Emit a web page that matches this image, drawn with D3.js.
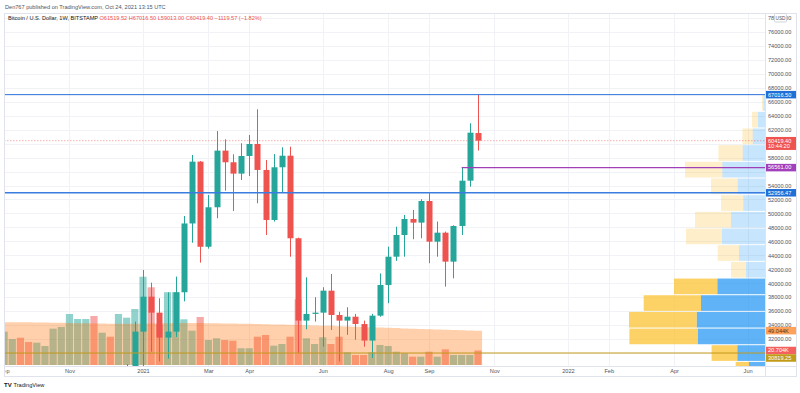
<!DOCTYPE html>
<html>
<head>
<meta charset="utf-8">
<script src="https://cdn.jsdelivr.net/npm/d3@7"></script>
<style>
  body { margin: 0; background: #fff; }
  svg { display: block; font-family: "Liberation Sans", Arial, sans-serif; }
</style>
</head>
<body>
<script>
// weekly bars, BITSTAMP BTC/USD
var weeks = ['2020-09-07','2020-09-14','2020-09-21','2020-09-28','2020-10-05','2020-10-12','2020-10-19','2020-10-26',
  '2020-11-02','2020-11-09','2020-11-16','2020-11-23','2020-11-30','2020-12-07','2020-12-14','2020-12-21','2020-12-28',
  '2021-01-04','2021-01-11','2021-01-18','2021-01-25','2021-02-01','2021-02-08','2021-02-15','2021-02-22',
  '2021-03-01','2021-03-08','2021-03-15','2021-03-22','2021-03-29','2021-04-05','2021-04-12','2021-04-19','2021-04-26',
  '2021-05-03','2021-05-10','2021-05-17','2021-05-24','2021-05-31','2021-06-07','2021-06-14','2021-06-21','2021-06-28',
  '2021-07-05','2021-07-12','2021-07-19','2021-07-26','2021-08-02','2021-08-09','2021-08-16','2021-08-23','2021-08-30',
  '2021-09-06','2021-09-13','2021-09-20','2021-09-27','2021-10-04','2021-10-11','2021-10-18'];

var open = [10280, 10330, 10930, 10730, 10670, 11380, 11500, 13030, 13780, 15480, 15960, 18650, 18170, 19370, 19270, 23850, 26250,
  33060, 38070, 35780, 32200, 33060, 38700, 48560, 57420, 45220, 50880, 59000, 57330, 55700, 58230, 59950, 56230, 49060, 56610,
  58270, 46440, 34640, 35600, 35780, 38930, 35450, 34640, 35200, 34150, 31780, 35350, 39750, 43800, 46910, 49200, 48680, 51780,
  45950, 47240, 43090, 48200, 54690, 61519.52];
var high = [10780, 11180, 10990, 10950, 11500, 11720, 13350, 14100, 15960, 16480, 18790, 19480, 19900, 19420, 24300, 28400, 34500,
  41900, 40080, 37840, 38700, 40950, 49630, 58370, 57500, 52640, 61800, 60620, 58470, 60050, 61240, 64920, 57650, 58500, 59470,
  59560, 46530, 40850, 38000, 39420, 41320, 35900, 36550, 35600, 34640, 35600, 41400, 45230, 48100, 49780, 50500, 52030, 52880,
  48830, 47400, 48300, 56610, 62920, 67016.5];
var low = [9880, 10200, 10150, 10380, 10530, 11220, 11420, 12950, 13220, 14800, 15780, 16200, 18100, 17600, 19000, 21900, 26000,
  27700, 30190, 28800, 29200, 32300, 37400, 45800, 42950, 44950, 49300, 53260, 50350, 54790, 55360, 51450, 46910, 48830, 52970,
  43800, 30000, 33400, 34500, 30900, 33300, 28800, 32600, 31900, 30900, 29300, 35200, 37130, 43200, 43800, 46300, 46440, 42860,
  43800, 39510, 40700, 46910, 53830, 59013];
var close = [10330, 10930, 10730, 10670, 11380, 11500, 13030, 13780, 15480, 15960, 18650, 18170, 19370, 19270, 23850, 26250, 33060,
  38070, 35780, 32200, 33060, 38700, 48560, 57420, 45220, 50880, 59000, 57330, 55700, 58230, 59950, 56230, 49060, 56610, 58270,
  46440, 34640, 35600, 35780, 38930, 35450, 34640, 35200, 34150, 31780, 35350, 39750, 43800, 46910, 49200, 48680, 51780, 45950,
  47240, 43090, 48200, 54690, 61570, 60419.40];

// volume in thousands of BTC, and its moving average
var volume = [47.6, 37.1, 39.0, 32.9, 31.9, 27.1, 51.9, 54.3, 72.9, 65.7, 65.7, 70.0, 46.1, 40.4, 72.9, 67.6, 80.0,
  126.1, 111.0, 58.0, 104.0, 104.0, 65.3, 49.0, 68.6, 35.7, 38.1, 35.7, 34.7, 23.9, 23.9, 40.4, 42.9, 27.6, 30.0,
  40.4, 93.9, 38.1, 30.0, 39.6, 30.0, 40.4, 18.1, 14.3, 14.3, 18.1, 28.6, 27.1, 19.0, 16.7, 11.9, 11.9, 19.0,
  11.9, 22.4, 14.3, 14.3, 14.3, 20.704];
var volumeMA = [61.0, 61.0, 61.0, 61.0, 60.8, 60.6, 60.4, 60.2, 60.0, 59.8, 59.6, 59.4, 59.2, 59.0, 59.0, 59.0, 59.0,
  59.2, 59.4, 59.6, 59.8, 60.0, 60.0, 60.0, 60.0, 59.8, 59.6, 59.4, 59.2, 59.0, 58.8, 58.6, 58.3, 58.0, 57.7,
  57.4, 57.1, 56.8, 56.5, 56.2, 55.9, 55.5, 55.1, 54.7, 54.3, 53.9, 53.5, 53.1, 52.7, 52.3, 51.9, 51.5, 51.1,
  50.7, 50.3, 49.9, 49.6, 49.3, 49.044];

// volume profile (visible range), rows from top
var profileEdges = [67017, 64628, 62239, 59850, 57462, 55073, 52684, 50295, 47906, 45518, 43129, 40740,
  38351, 35962, 33573, 31185, 28796, 26407];
var profileUp   = [1.5, 7, 12.3, 22.3, 42.7, 27.3, 21.7, 34, 43, 26, 19, 47.7, 64, 68.3, 67.3, 27.7, 16];
var profileDown = [1.5, 6, 10.3, 24.3, 37.3, 26.7, 22.3, 36, 36, 21.3, 15, 43.3, 57.3, 67.7, 68.3, 25.7, 13.3];
var valueArea   = [0, 0, 0, 0, 0, 0, 0, 0, 0, 0, 0, 1, 1, 1, 1, 1, 1];

var priceTicks = [30000, 32000, 34000, 36000, 38000, 40000, 42000, 44000, 46000, 48000, 50000, 52000,
  54000, 56000, 58000, 60000, 62000, 64000, 66000, 68000, 70000, 72000, 74000, 76000, 78000];
var timeTicks = ['2020-09-07','2020-11-02','2021-01-04','2021-03-01','2021-04-05','2021-06-07','2021-08-02',
  '2021-09-06','2021-11-01','2022-01-03','2022-02-07','2022-04-04','2022-06-06'];
var timeLabels = ['Sep','Nov','2021','Mar','Apr','Jun','Aug','Sep','Nov','2022','Feb','Apr','Jun'];

var width = 800, height = 393;
var pane = {left: 4, right: 765, top: 13, bottom: 366},
  frameRight = 796, frameBottom = 376;

var red = '#ef5350', green = '#26a69a';
var fontSize = 5.6;

var bars = weeks.map(function(w, i) {
  return {date: new Date(w), o: open[i], h: high[i], l: low[i], c: close[i], v: volume[i], ma: volumeMA[i]};
});

var x = d3.scaleUtc()
  .domain([new Date('2021-01-04'), new Date('2021-10-18')])
  .range([143, 478]);
var y = d3.scaleLinear().domain([30000, 78000]).range([353, 18]);
var yVol = d3.scaleLinear().domain([0, 100]).range([365, 295]);
var wProf = d3.scaleLinear().domain([0, 100]).range([0, 100]);

var barStep = x(new Date('2021-01-11')) - x(new Date('2021-01-04'));

var svg = d3.select('body').append('svg')
  .attr('width', width)
  .attr('height', height);

var defs = svg.append('defs');
defs.append('clipPath').attr('id', 'pane')
  .append('rect')
    .attr('x', pane.left).attr('y', pane.top)
    .attr('width', pane.right - pane.left).attr('height', pane.bottom - pane.top);
defs.append('clipPath').attr('id', 'frame')
  .append('rect')
    .attr('x', pane.left + 1.5).attr('y', 0)
    .attr('width', frameRight - pane.left - 1.5).attr('height', height);

// header
svg.append('text')
  .attr('x', 5).attr('y', 8.6)
  .style('font-size', fontSize + 'px')
  .style('fill', '#50535e')
  .text('Den767 published on TradingView.com, Oct 24, 2021 13:15 UTC');

// grid
var grid = svg.append('g').attr('class', 'grid').attr('clip-path', 'url(#pane)');
grid.selectAll('line.h')
  .data(priceTicks)
  .enter().append('line')
    .attr('x1', pane.left).attr('x2', pane.right)
    .attr('y1', function(d) { return Math.round(y(d)) + 0.5; })
    .attr('y2', function(d) { return Math.round(y(d)) + 0.5; })
    .style('stroke', '#f0f2f6');
grid.selectAll('line.v')
  .data(timeTicks)
  .enter().append('line')
    .attr('x1', function(d) { return Math.round(x(new Date(d))) + 0.5; })
    .attr('x2', function(d) { return Math.round(x(new Date(d))) + 0.5; })
    .attr('y1', pane.top).attr('y2', pane.bottom)
    .style('stroke', '#f0f2f6');

var plot = svg.append('g').attr('clip-path', 'url(#pane)');

// volume bars
plot.append('g').selectAll('rect')
  .data(bars)
  .enter().append('rect')
    .attr('x', function(d) { return x(d.date) - barStep / 2 + 0.5; })
    .attr('width', barStep - 1)
    .attr('y', function(d) { return yVol(d.v); })
    .attr('height', function(d) { return yVol(0) - yVol(d.v); })
    .style('fill', function(d) { return d.c >= d.o ? 'rgba(38,166,154,0.5)' : 'rgba(239,83,80,0.5)'; });

// volume MA area
var maPts = bars.map(function(d) { return [x(d.date), d.ma]; });
maPts.unshift([maPts[0][0] - barStep / 2, maPts[0][1]]);
maPts.push([maPts[maPts.length - 1][0] + barStep / 2, maPts[maPts.length - 1][1]]);
plot.append('path')
  .datum(maPts)
  .attr('d', d3.area()
    .curve(d3.curveStep)
    .x(function(d) { return d[0]; })
    .y0(yVol(0))
    .y1(function(d) { return yVol(d[1]); }))
  .style('fill', 'rgba(255,111,0,0.33)');

// candles
var candle = plot.append('g').selectAll('g')
  .data(bars)
  .enter().append('g')
    .style('fill', function(d) { return d.c >= d.o ? green : red; })
    .style('stroke', function(d) { return d.c >= d.o ? green : red; });
candle.append('line')
  .attr('x1', function(d) { return Math.round(x(d.date)) + 0.5; })
  .attr('x2', function(d) { return Math.round(x(d.date)) + 0.5; })
  .attr('y1', function(d) { return y(d.h); })
  .attr('y2', function(d) { return y(d.l); })
  .style('stroke-width', 1);
candle.append('rect')
  .attr('x', function(d) { return Math.round(x(d.date)) - 2.5; })
  .attr('width', 6)
  .attr('y', function(d) { return y(Math.max(d.o, d.c)); })
  .attr('height', function(d) { return Math.max(1, Math.abs(y(d.o) - y(d.c))); })
  .style('stroke', 'none');

// volume profile
var prof = plot.append('g');
profileUp.forEach(function(u, i) {
  var top = y(profileEdges[i]) + 0.5,
    h = y(profileEdges[i + 1]) - y(profileEdges[i]) - 1,
    va = valueArea[i];
  prof.append('rect')
    .attr('x', pane.right - wProf(u))
    .attr('y', top).attr('width', wProf(u)).attr('height', h)
    .style('fill', va ? 'rgba(33,150,243,0.72)' : 'rgba(33,150,243,0.25)');
  prof.append('rect')
    .attr('x', pane.right - wProf(u) - wProf(profileDown[i]))
    .attr('y', top).attr('width', wProf(profileDown[i])).attr('height', h)
    .style('fill', va ? 'rgba(251,192,45,0.72)' : 'rgba(251,192,45,0.25)');
});

// horizontal levels
var levels = [
  {price: 67016.5, from: null, color: '#2a6fdb', w: 1},
  {price: 52956.47, from: null, color: '#3a7de0', w: 1.6},
  {price: 56561, from: '2021-10-04', color: '#a040b8', w: 1.2},
  {price: 30000, from: null, color: '#c49a1a', w: 1}
];
plot.append('g').selectAll('line')
  .data(levels)
  .enter().append('line')
    .attr('x1', function(d) { return d.from ? x(new Date(d.from)) : pane.left; })
    .attr('x2', pane.right)
    .attr('y1', function(d) { return y(d.price); })
    .attr('y2', function(d) { return y(d.price); })
    .style('stroke', function(d) { return d.color; })
    .style('stroke-width', function(d) { return d.w; });

// last price line
plot.append('line')
  .attr('x1', pane.left).attr('x2', pane.right)
  .attr('y1', y(close[close.length - 1])).attr('y2', y(close[close.length - 1]))
  .style('stroke', 'rgba(239,83,80,0.45)')
  .style('stroke-dasharray', '1.5,1.5');

// frame
svg.append('rect')
  .attr('x', pane.left + 0.5).attr('y', pane.top + 0.5)
  .attr('width', frameRight - pane.left).attr('height', frameBottom - pane.top)
  .style('fill', 'none').style('stroke', '#e0e3eb');
svg.append('line')
  .attr('x1', pane.right + 0.5).attr('x2', pane.right + 0.5)
  .attr('y1', pane.top).attr('y2', frameBottom)
  .style('stroke', '#e0e3eb');
svg.append('line')
  .attr('x1', pane.left).attr('x2', frameRight)
  .attr('y1', pane.bottom + 0.5).attr('y2', pane.bottom + 0.5)
  .style('stroke', '#e0e3eb');

// legend
var legend = svg.append('text')
  .attr('x', 8).attr('y', 20.2)
  .style('font-size', fontSize + 'px');
legend.append('tspan').style('fill', '#131722').text('Bitcoin / U.S. Dollar, 1W, BITSTAMP ');
[['O', '61519.52'], ['H', '67016.50'], ['L', '59013.00'], ['C', '60419.40'], ['', '\u22121119.57 (\u22121.82%)']]
  .forEach(function(p) {
    legend.append('tspan').style('fill', red).text(' ' + p[0] + p[1]);
  });

// price labels on the axis, pushed down when they overlap
var badges = [
  {y: y(67016.5), lines: ['67016.50'], fill: '#1f6fd6', text: '#fff'},
  {y: y(60419.40), lines: ['60419.40', '10:44:20'], fill: '#ef5350', text: '#fff'},
  {y: y(56561), lines: ['56561.00'], fill: '#a23fba', text: '#fff'},
  {y: y(52956.47), lines: ['52956.47'], fill: '#1f6fd6', text: '#fff'},
  {y: yVol(49.044), lines: ['49.044K'], fill: '#ffa15a', text: '#5a3412'},
  {y: yVol(20.704), lines: ['20.704K'], fill: '#f4605e', text: '#fff'},
  {y: y(30000), lines: ['30819.25'], fill: '#c29b17', text: '#fff'}
];
var lastBottom = -Infinity;
badges.forEach(function(b) {
  b.h = b.lines.length === 1 ? 7.5 : 13;
  b.top = b.lines.length === 1 ? b.y - b.h / 2 : b.y - 3.75;
  if (b.top < lastBottom) b.top = lastBottom;
  lastBottom = b.top + b.h;
});

// price axis; scale labels hidden behind a badge are left out
var shownTicks = priceTicks.filter(function(t) {
  var ty = y(t);
  return !badges.some(function(b) { return ty > b.top - 1 && ty < b.top + b.h + 1; });
});
var yAxis = svg.append('g')
  .attr('transform', 'translate(' + (pane.right + 1) + ',0)')
  .call(d3.axisRight(y).tickValues(shownTicks).tickFormat(d3.format('.2f')).tickSize(0).tickPadding(2));
yAxis.select('.domain').remove();
yAxis.selectAll('text')
  .style('font-size', fontSize + 'px')
  .style('font-family', '"Liberation Sans", Arial, sans-serif')
  .style('fill', '#50535e');

// time axis
var xAxis = svg.append('g')
  .attr('clip-path', 'url(#frame)')
  .attr('transform', 'translate(0,' + pane.bottom + ')')
  .call(d3.axisBottom(x)
    .tickValues(timeTicks.map(function(d) { return new Date(d); }))
    .tickFormat(function(d, i) { return timeLabels[i]; })
    .tickSize(0).tickPadding(3));
xAxis.select('.domain').remove();
xAxis.selectAll('text')
  .style('font-size', fontSize + 'px')
  .style('font-family', '"Liberation Sans", Arial, sans-serif')
  .style('fill', '#50535e');

// USD badge
svg.append('rect')
  .attr('x', 774.5).attr('y', 13.5).attr('width', 12).attr('height', 8.5).attr('rx', 1)
  .style('fill', '#fff').style('stroke', '#d1d4dc');
svg.append('text')
  .attr('x', 780.5).attr('y', 19.8)
  .style('font-size', '4.8px').style('text-anchor', 'middle').style('fill', '#50535e')
  .text('USD');

badges.forEach(function(b) {
  svg.append('rect')
    .attr('x', pane.right + 1).attr('y', b.top)
    .attr('width', frameRight - pane.right - 1).attr('height', b.h)
    .style('fill', b.fill);
  b.lines.forEach(function(t, j) {
    svg.append('text')
      .attr('x', pane.right + 3).attr('y', b.top + 5.6 + j * 5.8)
      .style('font-size', fontSize + 'px').style('fill', b.text)
      .text(t);
  });
});

// TradingView logo
svg.append('text')
  .attr('x', 4).attr('y', 387.2)
  .style('font-size', '6px').style('font-weight', 'bold').style('fill', '#131722')
  .text('TV');
svg.append('text')
  .attr('x', 13.5).attr('y', 387.2)
  .style('font-size', fontSize + 'px').style('fill', '#131722')
  .text('TradingView');
</script>
</body>
</html>
